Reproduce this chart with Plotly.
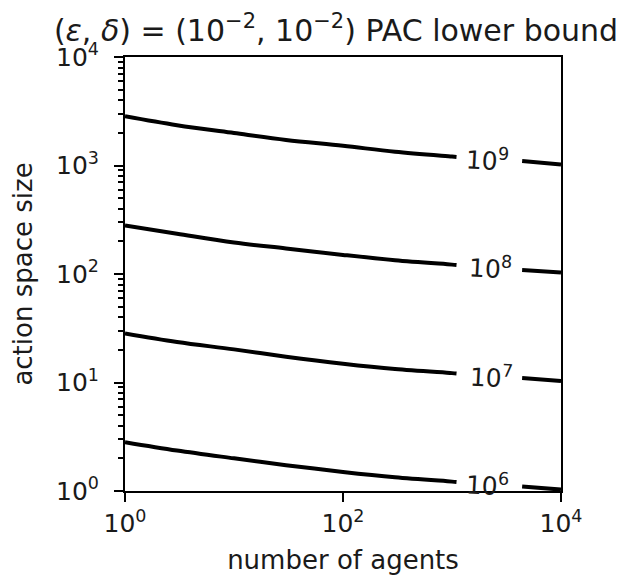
import math
import plotly.graph_objects as go

# ---- data ----
agents_left = [1, 3, 10, 30, 100, 300, 1000, 1100]
agents_right = [4400, 10000]

level_labels = ["10<sup>6</sup>", "10<sup>7</sup>", "10<sup>8</sup>", "10<sup>9</sup>"]

a6_left = [2.82, 2.36, 2.00, 1.73, 1.50, 1.34, 1.22, 1.21]
a6_right = [1.10, 1.03]
a7_left = [28.3, 23.6, 20.2, 17.3, 14.9, 13.3, 12.2, 12.1]
a7_right = [11.0, 10.3]
a8_left = [280, 235, 195, 172, 150, 134, 122, 121]
a8_right = [109, 103]
a9_left = [2840, 2350, 1990, 1720, 1520, 1340, 1210, 1200]
a9_right = [1100, 1020]

label_agents = [2110, 2290, 2270, 2110]
label_action = [1.156, 11.46, 113.8, 1148]

x_tickvals = [1, 100, 10000]
x_ticktext = ["10<sup>0</sup>", "10<sup>2</sup>", "10<sup>4</sup>"]
y_tickvals = [1, 10, 100, 1000, 10000]
y_ticktext = ["10<sup>0</sup>", "10<sup>1</sup>", "10<sup>2</sup>", "10<sup>3</sup>", "10<sup>4</sup>"]
y_minor = [m * 10 ** d for d in range(4) for m in range(2, 10)]

FONT = "DejaVu Sans"
TXT = "#1a1a1a"
LW = 4

fig = go.Figure()
for left, right in [(a6_left, a6_right), (a7_left, a7_right),
                    (a8_left, a8_right), (a9_left, a9_right)]:
    fig.add_trace(go.Scatter(x=agents_left, y=left, mode="lines",
                             line=dict(color="black", width=LW, shape="spline"),
                             showlegend=False, hoverinfo="skip"))
    fig.add_trace(go.Scatter(x=agents_right, y=right, mode="lines",
                             line=dict(color="black", width=LW),
                             showlegend=False, hoverinfo="skip"))

for txt, xa, ya in zip(level_labels, label_agents, label_action):
    fig.add_annotation(x=math.log10(xa), y=math.log10(ya), xref="x", yref="y",
                       text=txt, showarrow=False, textangle=3,
                       font=dict(family=FONT, size=25, color=TXT),
                       xanchor="center", yanchor="middle")

axis_common = dict(
    type="log", range=[0, 4], showgrid=False, zeroline=False,
    showline=True, linecolor="black", linewidth=2, mirror=True,
    ticks="outside", ticklen=9, tickwidth=2, tickcolor="black",
    tickfont=dict(family=FONT, size=25, color=TXT),
)

fig.update_layout(
    width=626, height=576,
    margin=dict(l=117, r=73, t=49, b=93),
    paper_bgcolor="white", plot_bgcolor="white",
    font=dict(family=FONT, color=TXT),
    title=dict(text="(<i>ε</i>, <i>δ</i>) = (10<sup>−2</sup>, 10<sup>−2</sup>) PAC lower bound",
               x=0.524, xanchor="center", y=1 - 22 / 576, yref="container", yanchor="middle",
               font=dict(family=FONT, size=30, color=TXT)),
    xaxis=dict(axis_common, tickvals=x_tickvals, ticktext=x_ticktext,
               title=dict(text="number of agents", standoff=14,
                          font=dict(family=FONT, size=26, color=TXT))),
    yaxis=dict(axis_common, tickvals=y_tickvals, ticktext=y_ticktext,
               ticklabelstandoff=10,
               minor=dict(tickvals=y_minor, ticks="outside", ticklen=5, tickwidth=1.5,
                          tickcolor="black"),
               title=dict(text="action space size", standoff=16,
                          font=dict(family=FONT, size=26, color=TXT))),
)
fig.update_xaxes(automargin=False)
fig.update_yaxes(automargin=False)

fig.write_html("out.html")
